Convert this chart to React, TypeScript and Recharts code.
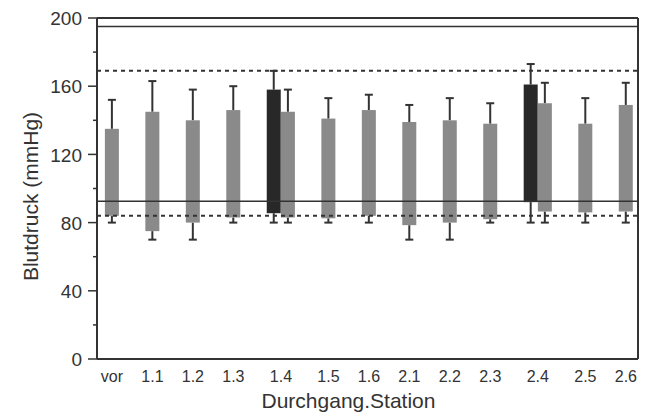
import React from 'react';
import { ComposedChart, Bar, XAxis, YAxis, ReferenceLine, Label } from 'recharts';

// one entry per bar (1.4 and 2.4 have an extra dark bar)
const stations   = ['vor', '1.1', '1.2', '1.3', '1.4', '1.4', '1.5', '1.6', '2.1', '2.2', '2.3', '2.4', '2.4', '2.5', '2.6'];
const isDark     = [false, false, false, false, true, false, false, false, false, false, false, true, false, false, false];
const xPos       = [0, 1, 2, 3, 4, 4.35, 5.35, 6.35, 7.35, 8.35, 9.35, 10.35, 10.7, 11.7, 12.7];
const systolic   = [135, 145, 140, 146, 158, 145, 141, 146, 139, 140, 138, 161, 150, 138, 149];
const systolicSd = [152, 163, 158, 160, 169, 158, 153, 155, 149, 153, 150, 173, 162, 153, 162];
const diastolic  = [84, 75, 80, 83, 85.5, 83, 82.5, 84, 78.5, 80, 82, 92, 86.5, 86, 86.5];
const diastolicSd = [80, 70, 70, 80, 80, 80, 80, 80, 70, 70, 80, 80, 80, 80, 80];

// x-axis labels (pairs labelled at their middle)
const tickPos    = [0, 1, 2, 3, 4.175, 5.35, 6.35, 7.35, 8.35, 9.35, 10.525, 11.7, 12.7];
const tickLabels = ['vor', '1.1', '1.2', '1.3', '1.4', '1.5', '1.6', '2.1', '2.2', '2.3', '2.4', '2.5', '2.6'];
const yTicks     = [0, 20, 40, 60, 80, 100, 120, 140, 160, 180, 200];

// reference limits
const upperBorder = 195;
const upperDotted = 169;
const lowerSolid  = 92.5;
const lowerDotted = 84;

const data = stations.map((s, i) => ({
  station: s,
  x: xPos[i],
  range: [diastolic[i], systolic[i]],
  hi: systolicSd[i],
  lo: diastolicSd[i],
  dark: isDark[i],
}));

const FONT = '"Liberation Sans", Arial, sans-serif';
const INK = '#333';
const TICK_SIZE = 9;
const TICK_MARGIN = 6;

const BarWithWhiskers = (props: any) => {
  const { x, y, width, height, payload } = props;
  const top = Math.min(y, y + height);
  const h = Math.abs(height);
  const [low, high] = payload.range;
  const ppu = h / (high - low);
  const cx = x + width / 2;
  const yHi = top - (payload.hi - high) * ppu;
  const yLo = top + h + (low - payload.lo) * ppu;
  return (
    <g>
      <line x1={cx} x2={cx} y1={top} y2={yHi} stroke={INK} strokeWidth={2} />
      <line x1={cx - 4} x2={cx + 4} y1={yHi} y2={yHi} stroke={INK} strokeWidth={2} />
      <line x1={cx} x2={cx} y1={top + h} y2={yLo} stroke={INK} strokeWidth={2} />
      <line x1={cx - 4} x2={cx + 4} y1={yLo} y2={yLo} stroke={INK} strokeWidth={2} />
      <rect x={x} y={top} width={width} height={h} fill={payload.dark ? '#282828' : '#8a8a8a'} />
    </g>
  );
};

const YTick = (props: any) => {
  const { x, y, payload } = props;
  const major = payload.value % 40 === 0;
  const edge = x + TICK_MARGIN + TICK_SIZE;
  return (
    <g>
      <line x1={edge} x2={edge - (major ? TICK_SIZE : 4)} y1={y} y2={y} stroke={INK} strokeWidth={1.5} />
      {major && (
        <text x={x} y={y} dy="0.38em" textAnchor="end" fill={INK} fontSize={19} fontFamily={FONT}>
          {payload.value}
        </text>
      )}
    </g>
  );
};

const YTitle = (props: any) => {
  const { viewBox } = props;
  const cx = viewBox.x + 30;
  const cy = viewBox.y + viewBox.height / 2 + 8;
  return (
    <text x={cx} y={cy} transform={`rotate(-90 ${cx} ${cy})`} textAnchor="middle" dominantBaseline="central"
      fill={INK} fontSize={21} fontFamily={FONT}>
      Blutdruck (mmHg)
    </text>
  );
};

const XTitle = (props: any) => {
  const { viewBox } = props;
  const cx = viewBox.x + viewBox.width / 2 - 19;
  const by = viewBox.y + viewBox.height - 6;
  return (
    <text x={cx} y={by} textAnchor="middle" fill={INK} fontSize={21} fontFamily={FONT}>
      Durchgang.Station
    </text>
  );
};

export default function App() {
  return (
    <div style={{ position: 'absolute', left: 0, top: 0, width: 645, height: 414, background: '#fff' }}>
      <ComposedChart width={645} height={414} data={data} margin={{ top: 18, right: 7, bottom: 0, left: 0 }}>
        <XAxis
          type="number"
          dataKey="x"
          domain={[-0.37, 13]}
          allowDataOverflow
          ticks={tickPos}
          interval={0}
          tickFormatter={(v: number, i: number) => tickLabels[i]}
          tickLine={false}
          tickSize={0}
          tickMargin={12}
          height={55}
          axisLine={{ stroke: INK, strokeWidth: 2 }}
          tick={{ fill: INK, fontSize: 16, fontFamily: FONT }}
        >
          <Label content={XTitle} />
        </XAxis>
        <YAxis
          type="number"
          domain={[0, 200]}
          ticks={yTicks}
          interval={0}
          width={97}
          tickLine={false}
          tickSize={TICK_SIZE}
          tickMargin={TICK_MARGIN}
          axisLine={{ stroke: INK, strokeWidth: 2 }}
          tick={<YTick />}
        >
          <Label content={YTitle} />
        </YAxis>
        <Bar dataKey="range" barSize={14} shape={<BarWithWhiskers />} isAnimationActive={false} />
        <ReferenceLine y={200} stroke={INK} strokeWidth={2} />
        <ReferenceLine x={13} stroke={INK} strokeWidth={2} />
        <ReferenceLine y={upperBorder} stroke={INK} strokeWidth={1.5} />
        <ReferenceLine y={upperDotted} stroke={INK} strokeWidth={2} strokeDasharray="4 4" />
        <ReferenceLine y={lowerSolid} stroke={INK} strokeWidth={1.5} />
        <ReferenceLine y={lowerDotted} stroke={INK} strokeWidth={2} strokeDasharray="4 4" />
      </ComposedChart>
    </div>
  );
}
